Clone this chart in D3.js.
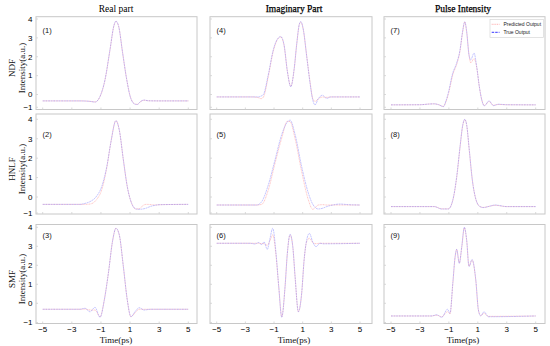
<!DOCTYPE html>
<html><head><meta charset="utf-8">
<script src="https://cdn.jsdelivr.net/npm/d3@7"></script>
<style>body{margin:0;background:#fff}svg{display:block}</style>
</head><body><svg id="c" width="550" height="346"></svg>
<script>
// ---------- DATA ----------
const columnTitles = ["Real part", "Imaginary Part", "Pulse Intensity"];
const rowNames = ["NDF", "HNLF", "SMF"];
const yLabel = "Intensity(a.u.)";
const xLabel = "Time(ps)";
const xTicks = [-5, -3, -1, 1, 3, 5];
const yTicks = [-1, 0, 1, 2, 3, 4];
const seriesNames = ["Predicted Output", "True Output"];

// (1) NDF real
const p1T    = [-5,-2.5,-1.8,-1.4,-1.06,-0.72,-0.38,-0.1,0.03,0.22,0.49,0.77,1.04,1.34,1.5,1.73,1.96,2.25,3,5];
const p1True = [-0.5,-0.5,-0.53,-0.59,-0.14,0.79,2.37,3.68,3.89,3.6,2.2,0.79,-0.27,-0.76,-0.78,-0.54,-0.43,-0.49,-0.5,-0.5];
const p1Pred = [-0.5,-0.5,-0.53,-0.58,-0.16,0.77,2.35,3.66,3.87,3.6,2.2,0.8,-0.25,-0.74,-0.77,-0.55,-0.45,-0.49,-0.5,-0.5];
// (2) HNLF real
const p2T    = [-5,-2.44,-2.1,-1.75,-1.29,-0.95,-0.6,-0.31,0.03,0.26,0.54,0.81,1.11,1.41,1.68,1.8,2.1,2.37,2.7,3.06,5];
const p2True = [-0.46,-0.46,-0.4,-0.29,0.05,0.53,1.56,2.85,3.93,3.45,1.91,0.53,-0.4,-0.75,-0.77,-0.76,-0.7,-0.6,-0.52,-0.48,-0.46];
const p2Pred = [-0.46,-0.46,-0.46,-0.44,-0.15,0.36,1.5,2.85,3.93,3.45,1.91,0.53,-0.4,-0.75,-0.72,-0.6,-0.46,-0.47,-0.5,-0.48,-0.46];
// (3) SMF real
const p3T    = [-5,-2.44,-2.1,-1.75,-1.41,-1.06,-0.77,-0.49,-0.19,0.03,0.26,0.54,0.81,1.06,1.34,1.63,1.96,2.4,5];
const p3True = [-0.31,-0.31,-0.26,-0.44,-0.21,-0.73,0.17,1.58,3.33,3.95,3.6,1.93,0.17,-0.7,-0.44,-0.23,-0.35,-0.31,-0.31];
const p3Pred = [-0.31,-0.31,-0.3,-0.35,-0.35,-0.7,0.17,1.58,3.33,3.95,3.6,1.93,0.17,-0.7,-0.5,-0.31,-0.31,-0.31,-0.31];
// (4) NDF imaginary
const p4T    = [-5,-2.5,-2.09,-1.9,-1.74,-1.4,-1.05,-0.77,-0.53,-0.3,-0.07,0.17,0.4,0.59,0.77,0.87,1.05,1.28,1.51,1.7,1.86,2.09,2.37,2.68,2.96,5];
const p4True = [-0.19,-0.19,-0.19,-0.12,0,1.05,2.37,2.93,3.07,2.63,1.23,0.41,1.32,2.72,3.74,3.86,3.42,2.02,0.62,-0.41,-0.81,-0.33,-0.06,-0.3,-0.19,-0.19];
const p4Pred = [-0.19,-0.19,-0.25,-0.33,-0.2,0.95,2.3,2.9,3.05,2.6,1.25,0.43,1.3,2.7,3.72,3.84,3.4,2.05,0.7,-0.3,-0.54,-0.35,-0.2,-0.22,-0.19,-0.19];
// (5) HNLF imaginary
const p5T    = [-5,-2.2,-1.86,-1.4,-0.93,-0.46,-0.07,0.12,0.47,0.93,1.4,1.7,2.09,2.4,2.68,3.1,3.6,4.2,5];
const p5True = [-0.5,-0.5,-0.29,0.62,1.91,3.22,3.86,3.96,3.22,1.56,0.19,-0.45,-0.75,-0.7,-0.6,-0.5,-0.44,-0.48,-0.5];
const p5Pred = [-0.5,-0.5,-0.46,0.36,1.74,3.04,3.9,3.88,3.0,1.3,-0.19,-0.77,-0.5,-0.48,-0.5,-0.5,-0.5,-0.5,-0.5];
// (6) SMF imaginary
const p6T    = [-5,-2.67,-2.32,-2.09,-1.86,-1.7,-1.47,-1.28,-1.09,-0.86,-0.67,-0.46,-0.23,-0.07,0.12,0.31,0.47,0.7,0.93,1.1,1.28,1.47,1.7,1.93,2.21,2.44,5];
const p6True = [3.16,3.16,3.12,3.2,3.09,3.23,2.84,3.42,3.95,2.63,0.87,-0.73,0.87,2.63,3.63,2.98,1.4,-0.44,0.53,2.28,3.33,3.68,3.23,2.98,3.16,3.13,3.16];
const p6Pred = [3.16,3.16,3.16,3.16,3.14,3.14,3.05,3.3,3.6,2.5,0.87,-0.7,0.87,2.63,3.6,2.98,1.4,-0.44,0.53,2.28,3.25,3.42,3.2,3.14,3.16,3.16,3.16];
// (7) NDF pulse intensity
const p7T    = [-5,-3,-2.3,-2.0,-1.7,-1.38,-1.2,-1.04,-0.73,-0.46,-0.23,-0.07,0.1,0.23,0.39,0.51,0.74,0.92,1.1,1.27,1.45,1.78,2.07,2.42,3,5];
const p7True = [-0.81,-0.8,-0.74,-0.73,-0.8,-0.95,-0.5,0.09,1.14,1.67,2.37,3.25,3.86,3.33,2.1,1.84,2.19,1.49,0.44,-0.41,-0.89,-0.49,-0.87,-0.76,-0.8,-0.81];
const p7Pred = [-0.81,-0.8,-0.74,-0.73,-0.8,-0.93,-0.55,0.0,1.05,1.6,2.3,3.2,3.84,3.3,2.1,1.68,1.9,1.45,0.44,-0.41,-0.86,-0.55,-0.84,-0.78,-0.8,-0.81];
// (8) HNLF pulse intensity
const p8T    = [-5,-2,-1.5,-1.04,-0.73,-0.46,-0.23,-0.04,0.1,0.23,0.41,0.62,0.88,1.15,1.38,1.8,2.19,3,5];
const p8True = [-0.6,-0.6,-0.75,-0.75,-0.19,1.05,2.59,3.71,4.0,3.71,2.42,0.88,-0.19,-0.6,-0.66,-0.58,-0.5,-0.6,-0.6];
const p8Pred = [-0.6,-0.6,-0.74,-0.74,-0.22,1.0,2.55,3.69,3.98,3.7,2.4,0.88,-0.19,-0.6,-0.65,-0.58,-0.52,-0.6,-0.6];
// (9) SMF pulse intensity
const p9T    = [-5,-2.2,-1.84,-1.49,-1.1,-0.92,-0.73,-0.57,-0.46,-0.28,-0.11,0.07,0.23,0.39,0.6,0.86,1.04,1.2,1.43,1.73,5];
const p9True = [-0.66,-0.66,-0.6,-0.73,-0.31,-0.52,1.05,2.45,2.84,2.1,2.98,4.0,3.33,1.93,2.31,1.23,-0.35,-0.66,-0.44,-0.7,-0.66];
const p9Pred = [-0.66,-0.66,-0.62,-0.7,-0.44,-0.55,1.0,2.42,2.84,2.12,2.95,3.98,3.3,1.95,2.28,1.2,-0.35,-0.64,-0.52,-0.68,-0.66];

// panels: [col][row]
const panels = [
  [{t:p1T,tr:p1True,pr:p1Pred,lab:"(1)"},{t:p2T,tr:p2True,pr:p2Pred,lab:"(2)"},{t:p3T,tr:p3True,pr:p3Pred,lab:"(3)"}],
  [{t:p4T,tr:p4True,pr:p4Pred,lab:"(4)"},{t:p5T,tr:p5True,pr:p5Pred,lab:"(5)"},{t:p6T,tr:p6True,pr:p6Pred,lab:"(6)"}],
  [{t:p7T,tr:p7True,pr:p7Pred,lab:"(7)"},{t:p8T,tr:p8True,pr:p8Pred,lab:"(8)"},{t:p9T,tr:p9True,pr:p9Pred,lab:"(9)"}]
];

// ---------- LAYOUT ----------
const cols = [
  {left:36,  right:197, x0:42.7,  x1:188.3, cx:116},
  {left:210, right:372, x0:216.7, x1:360,   cx:294},
  {left:384, right:545, x0:391,   x1:535.7, cx:463}
];
const rows = [
  {top:16.7, bottom:109.5, yM1:107.3, y0:94.5,  y4:19,    lab:30},
  {top:114,  bottom:214,   yM1:213,   y0:197,   y4:119.3, lab:134},
  {top:224.5,bottom:323.5, yM1:322.5, y0:303.3, y4:227.3, lab:235}
];
const serif = "'Liberation Serif','Times New Roman',serif";
const sans = "'Liberation Sans',Arial,sans-serif";
const predColor = "#ff7a7a", trueColor = "#7070ff";

const svg = d3.select("#c");

// titles
cols.forEach((c,i)=>{
  svg.append("text").attr("x",c.cx).attr("y",9).attr("dy","0.35em")
    .attr("text-anchor","middle").attr("font-family",serif).attr("font-size",9.5)
    .attr("fill","#000").attr("stroke","#000").attr("stroke-width", i===0 ? 0 : 0.25)
    .text(columnTitles[i]);
});

cols.forEach((c,ci)=>{
  const x = d3.scaleLinear().domain([-5,5]).range([c.x0,c.x1]);
  rows.forEach((r,ri)=>{
    const y = d3.scaleLinear().domain([-1,0,4]).range([r.yM1,r.y0,r.y4]);
    const g = svg.append("g");
    // box
    g.append("rect").attr("x",c.left).attr("y",r.top)
      .attr("width",c.right-c.left).attr("height",r.bottom-r.top)
      .attr("fill","none").attr("stroke","#c8c8c8").attr("stroke-width",1);
    // ticks (inward)
    xTicks.forEach(v=>{
      g.append("line").attr("x1",x(v)).attr("x2",x(v))
        .attr("y1",r.bottom).attr("y2",r.bottom-2)
        .attr("stroke","#d0d0d0").attr("stroke-width",0.8);
    });
    yTicks.forEach(v=>{
      g.append("line").attr("x1",c.left).attr("x2",c.left+2)
        .attr("y1",y(v)).attr("y2",y(v))
        .attr("stroke","#d0d0d0").attr("stroke-width",0.8);
    });
    // y tick labels in first column
    if(ci===0){
      yTicks.forEach(v=>{
        g.append("text").attr("x",32.5).attr("y",y(v)).attr("dy","0.35em")
          .attr("text-anchor","end").attr("font-family",sans).attr("font-size",8)
          .attr("fill","#000").text(d3.format("d")(v).replace("-","\u2212"));
      });
      const cy = (r.top+r.bottom)/2 + 5;
      g.append("text").attr("transform",`translate(12,${cy}) rotate(-90)`)
        .attr("dy","0.35em").attr("text-anchor","middle").attr("font-family",serif)
        .attr("font-size",9).attr("fill","#111").text(rowNames[ri]);
      g.append("text").attr("transform",`translate(21.5,${cy}) rotate(-90)`)
        .attr("dy","0.35em").attr("text-anchor","middle").attr("font-family",serif)
        .attr("font-size",9).attr("fill","#111").text(yLabel);
    }
    // x tick labels in bottom row
    if(ri===2){
      xTicks.forEach(v=>{
        g.append("text").attr("x",x(v)).attr("y",329.5).attr("dy","0.35em")
          .attr("text-anchor","middle").attr("font-family",sans).attr("font-size",8)
          .attr("fill","#000").text(d3.format("d")(v).replace("-","\u2212"));
      });
      g.append("text").attr("x",c.cx).attr("y",339.5).attr("dy","0.35em")
        .attr("text-anchor","middle").attr("font-family",serif).attr("font-size",9)
        .attr("fill","#111").text(xLabel);
    }
    // panel label
    g.append("text").attr("x",c.left+6.5).attr("y",r.lab).attr("dy","0.35em")
      .attr("font-family",sans).attr("font-size",7.5).attr("fill","#111")
      .text(panels[ci][ri].lab);
    // curves
    const p = panels[ci][ri];
    const line = d3.line().x(d=>x(d[0])).y(d=>y(d[1])).curve(d3.curveMonotoneX);
    g.append("path").attr("d",line(p.t.map((t,i)=>[t,p.pr[i]])))
      .attr("fill","none").attr("stroke",predColor).attr("stroke-width",0.8)
      .attr("stroke-opacity",0.55).attr("stroke-dasharray","1,0.6");
    g.append("path").attr("d",line(p.t.map((t,i)=>[t,p.tr[i]])))
      .attr("fill","none").attr("stroke",trueColor).attr("stroke-width",0.8)
      .attr("stroke-opacity",0.5).attr("stroke-dasharray","2,0.6");
  });
});

// legend in panel (7)
const lg = svg.append("g");
lg.append("rect").attr("x",490).attr("y",19.5).attr("width",53.5).attr("height",18)
  .attr("fill","#fff").attr("stroke","#d8d8d8").attr("stroke-width",0.7);
[[predColor,"1,0.8",24.3,0.7],["#2020ff","2.5,1",32.3,1]].forEach((s,i)=>{
  lg.append("line").attr("x1",491.7).attr("x2",499.5).attr("y1",s[2]).attr("y2",s[2])
    .attr("stroke",s[0]).attr("stroke-width",0.9).attr("stroke-dasharray",s[1]).attr("stroke-opacity",s[3]);
  lg.append("text").attr("x",503.5).attr("y",s[2]).attr("dy","0.35em")
    .attr("font-family",sans).attr("font-size",5).attr("fill","#222").text(seriesNames[i]);
});
</script></body></html>
